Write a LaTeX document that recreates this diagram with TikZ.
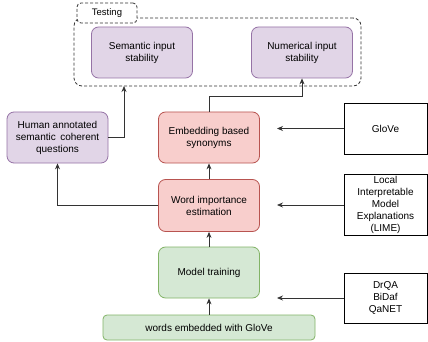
\documentclass[tikz,border=0pt]{standalone}
\usepackage{fontspec}
\setmainfont{Liberation Sans}
\usetikzlibrary{arrows.meta}
\definecolor{purpF}{HTML}{E1D5E7}
\definecolor{purpD}{HTML}{9673A6}
\definecolor{redF}{HTML}{F8CECC}
\definecolor{redD}{HTML}{B85450}
\definecolor{grnF}{HTML}{D5E8D4}
\definecolor{grnD}{HTML}{82B366}
\definecolor{lineC}{HTML}{333333}
\tikzset{
  box/.style={draw, line width=0.8pt, rounded corners=7pt, align=center, inner sep=2pt,
    font=\fontsize{10}{12}\selectfont, minimum width=101pt, minimum height=51pt},
  purpbox/.style={box, fill=purpF, draw=purpD},
  redbox/.style={box, fill=redF, draw=redD},
  grnbox/.style={box, fill=grnF, draw=grnD},
  srcbox/.style={draw=black, line width=0.8pt, align=center, inner sep=2pt,
    font=\fontsize{10}{12}\selectfont, minimum width=83pt, fill=white},
  arr/.style={draw=lineC, line width=0.8pt, -{Stealth[length=6pt,width=5pt]}},
  dsh/.style={draw=lineC, line width=0.8pt, dash pattern=on 3pt off 2pt}
}
\begin{document}
\begin{tikzpicture}[x=1pt,y=-1pt]
\useasboundingbox[fill=white] (0,0) rectangle (428,342);
% testing container
\node[dsh, rounded corners=8pt, minimum width=287pt, minimum height=68pt] (testbox) at (217.5,52) {};
\node[dsh, fill=white, rounded corners=4pt, minimum width=60pt, minimum height=20pt,
  font=\fontsize{9.5}{11}\selectfont, inner sep=1pt] (tab) at (107,13) {Testing};
% nodes
\node[purpbox] (sem) at (142,52.5) {Semantic input\\stability};
\node[purpbox] (num) at (302,52.5) {Numerical input\\stability};
\node[purpbox] (human) at (57.5,137.5) {Human annotated\\semantic\, coherent\\questions};
\node[redbox] (emb) at (209,137.5) {Embedding based\\synonyms};
\node[redbox, minimum height=52pt] (wie) at (209,205.5) {Word importance\\estimation};
\node[grnbox] (mt) at (209,272.5) {Model training};
\node[grnbox, rounded corners=4pt, minimum width=212pt, minimum height=25pt] (we) at (209,327.5) {words embedded with GloVe};
\node[srcbox, minimum height=51pt] (glove) at (385.5,128.5) {GloVe};
\node[srcbox, minimum height=60pt] (lime) at (385.5,205) {Local\\Interpretable\\Model\\Explanations\\(LIME)};
\node[srcbox, minimum height=50pt] (drqa) at (385.5,298) {DrQA\\BiDaf\\QaNET};
% free ends
\coordinate (gtip) at (277,128.5);
\coordinate (ltip) at (277,205);
\coordinate (dtip) at (277,298);
\coordinate (htip) at (124,86);
% connectors
\draw[arr] (we) -- (mt);
\draw[arr] (mt) -- (wie);
\draw[arr] (wie) -- (emb);
\draw[arr] (emb.north) -- ++(0,-15) -| (num.south);
\draw[arr] (human.east) -| (htip);
\draw[arr] (wie.west) -| (human.south);
\draw[arr] (glove.west) -- (gtip);
\draw[arr] (lime.west) -- (ltip);
\draw[arr] (drqa.west) -- (dtip);
\end{tikzpicture}
\end{document}
